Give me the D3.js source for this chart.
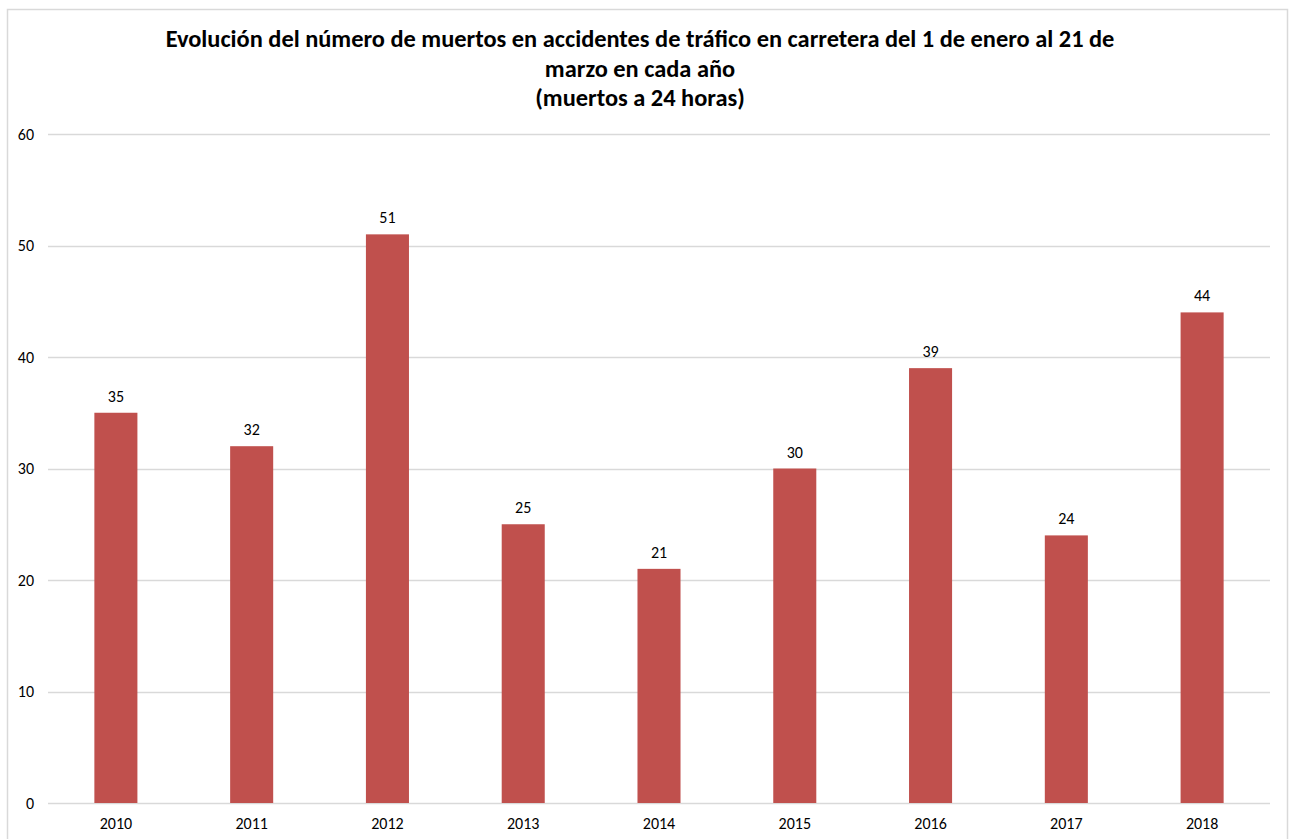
<!DOCTYPE html>
<html>
<head>
<meta charset="utf-8">
<script src="https://cdn.jsdelivr.net/npm/d3@7"></script>
<style>
  body { margin: 0; background: #fff; }
  text { font-family: Carlito, Calibri, Lato, "Open Sans", sans-serif; }
</style>
</head>
<body>
<svg id="chart"></svg>
<script>
var years = ["2010", "2011", "2012", "2013", "2014", "2015", "2016", "2017", "2018"];
var deaths = [35, 32, 51, 25, 21, 30, 39, 24, 44];
var yTicks = [0, 10, 20, 30, 40, 50, 60];
var titleLines = [
    "Evolución del número de muertos en accidentes de tráfico en carretera del 1 de enero al 21 de",
    "marzo en cada año",
    "(muertos a 24 horas)"
];

var width = 1293, height = 839;
var margin = {left: 48, right: 23, top: 134, bottom: 36};

var svg = d3.select("#chart")
    .attr("width", width)
    .attr("height", height);

// outer frame
svg.append("rect")
    .attr("x", 7.5)
    .attr("y", 9.5)
    .attr("width", 1280)
    .attr("height", 840)
    .style("fill", "none")
    .style("stroke", "#d9d9d9")
    .style("stroke-width", 1.5);

var x = d3.scaleBand()
    .domain(years)
    .range([margin.left, width - margin.right])
    .paddingInner(0.683)
    .paddingOuter(0.3415);

var y = d3.scaleLinear()
    .domain([0, 60])
    .range([height - margin.bottom, margin.top]);

// gridlines
svg.append("g")
    .selectAll("line")
    .data(yTicks)
    .join("line")
    .attr("x1", margin.left)
    .attr("x2", width - margin.right)
    .attr("y1", d => Math.round(y(d)) + 0.5)
    .attr("y2", d => Math.round(y(d)) + 0.5)
    .style("stroke", "#d9d9d9")
    .style("stroke-width", 1.3);

// y axis labels
var yAxis = d3.axisLeft(y).tickValues(yTicks).tickSize(0).tickPadding(14);
svg.append("g")
    .attr("transform", "translate(" + margin.left + ",0)")
    .call(yAxis)
    .call(g => g.select(".domain").remove())
    .selectAll("text")
    .style("font-size", "16px")
    .style("fill", "#000");

// bars
svg.append("g")
    .selectAll("rect")
    .data(years)
    .join("rect")
    .attr("x", d => x(d))
    .attr("width", x.bandwidth())
    .attr("y", (d, i) => y(deaths[i]))
    .attr("height", (d, i) => y(0) - y(deaths[i]))
    .style("fill", "#c0504d");

// data labels
svg.append("g")
    .selectAll("text")
    .data(years)
    .join("text")
    .attr("x", d => x(d) + x.bandwidth() / 2)
    .attr("y", (d, i) => y(deaths[i]) - 11)
    .attr("text-anchor", "middle")
    .style("font-size", "16px")
    .style("fill", "#000")
    .text((d, i) => deaths[i]);

// x axis labels
var xAxis = d3.axisBottom(x).tickSize(0).tickPadding(15);
svg.append("g")
    .attr("transform", "translate(0," + y(0) + ")")
    .call(xAxis)
    .call(g => g.select(".domain").remove())
    .selectAll("text")
    .style("font-size", "16px")
    .style("fill", "#000");

// title
svg.append("text")
    .attr("x", 640)
    .attr("y", 47)
    .attr("text-anchor", "middle")
    .style("font-size", "24.4px")
    .style("font-weight", "bold")
    .style("fill", "#000")
    .selectAll("tspan")
    .data(titleLines)
    .join("tspan")
    .attr("x", 640)
    .attr("dy", (d, i) => i === 0 ? 0 : 29.5)
    .text(d => d);
</script>
</body>
</html>
